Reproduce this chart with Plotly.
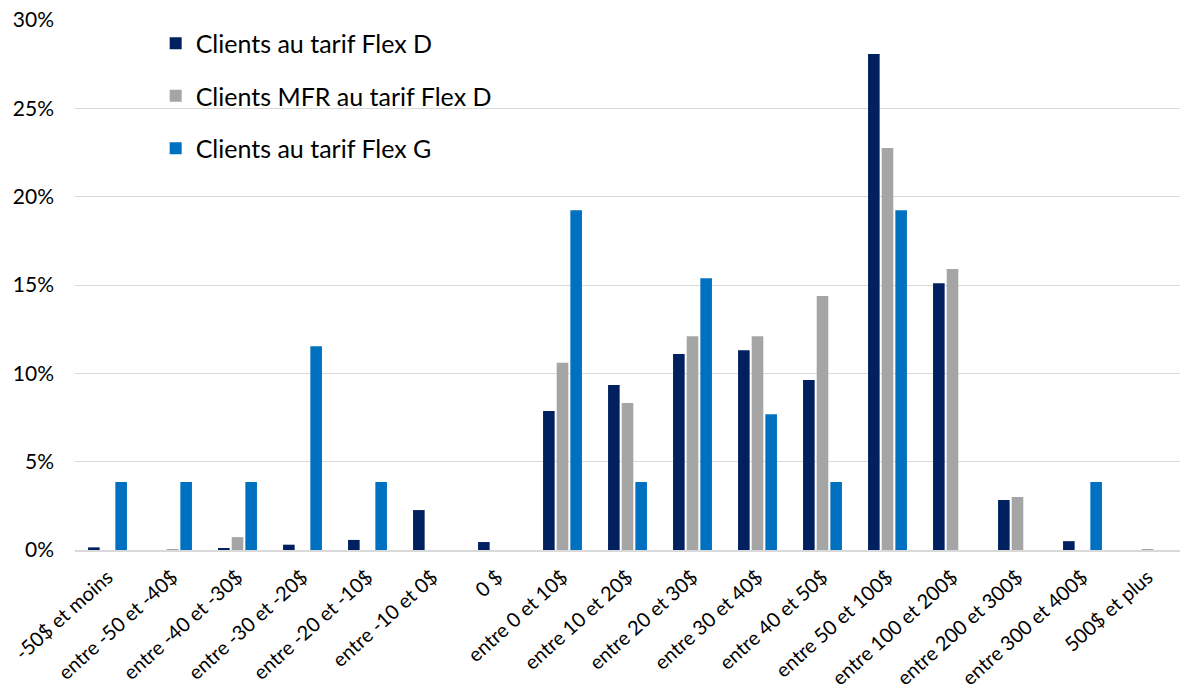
import plotly.graph_objects as go

categories = [
    "-50$ et moins", "entre -50 et -40$", "entre -40 et -30$", "entre -30 et -20$",
    "entre -20 et -10$", "entre -10 et 0$", "0 $", "entre 0 et 10$", "entre 10 et 20$",
    "entre 20 et 30$", "entre 30 et 40$", "entre 40 et 50$", "entre 50 et 100$",
    "entre 100 et 200$", "entre 200 et 300$", "entre 300 et 400$", "500$ et plus",
]

flex_d = [0.15, 0.0, 0.10, 0.30, 0.57, 2.26, 0.45, 7.87, 9.34, 11.1, 11.3, 9.62,
          28.07, 15.1, 2.83, 0.50, 0.0]
mfr_flex_d = [0.0, 0.05, 0.73, 0.0, 0.0, 0.0, 0.0, 10.6, 8.32, 12.1, 12.1, 14.38,
              22.75, 15.9, 3.0, 0.0, 0.05]
flex_g = [3.85, 3.85, 3.85, 11.54, 3.85, 0.0, 0.0, 19.23, 3.85, 15.38, 7.69, 3.85,
          19.23, 0.0, 0.0, 3.85, 0.0]

series = [
    ("Clients au tarif Flex D", flex_d, "#002060"),
    ("Clients MFR au tarif Flex D", mfr_flex_d, "#A5A5A5"),
    ("Clients au tarif Flex G", flex_g, "#0070C0"),
]

fig = go.Figure()
for i, (name, vals, color) in enumerate(series):
    fig.add_trace(go.Bar(
        x=categories, y=[v / 100 for v in vals], name=name,
        marker=dict(color=color, line=dict(width=0)),
        legendgroup=f"g{i}",
    ))

font_family = "Lato, 'Open Sans', sans-serif"
fig.update_layout(
    width=1196, height=688,
    margin=dict(l=75, r=16, t=20, b=138, autoexpand=False),
    paper_bgcolor="white", plot_bgcolor="white",
    barmode="group", bargap=0.37, bargroupgap=0.15,
    font=dict(family=font_family, color="#000000"),
    showlegend=True,
    legend=dict(
        x=0.073, y=0.999, xanchor="left", yanchor="top",
        font=dict(size=25, color="#000000"),
        bgcolor="rgba(0,0,0,0)", tracegroupgap=17,
        itemwidth=30,
    ),
    xaxis=dict(
        tickangle=-42, tickfont=dict(size=20, color="#000000"),
        showgrid=False, showline=True, linecolor="#D9D9D9", linewidth=1.5,
        ticks="", ticklabelstandoff=6, automargin=False,
    ),
    yaxis=dict(
        range=[0, 0.30], dtick=0.05, tickformat=".0%",
        tickfont=dict(size=21, color="#000000"),
        showgrid=True, gridcolor="#D9D9D9", gridwidth=1,
        zeroline=False, showline=False, ticks="", ticklabelstandoff=20,
        automargin=False,
    ),
)

fig.write_html("out.html")
